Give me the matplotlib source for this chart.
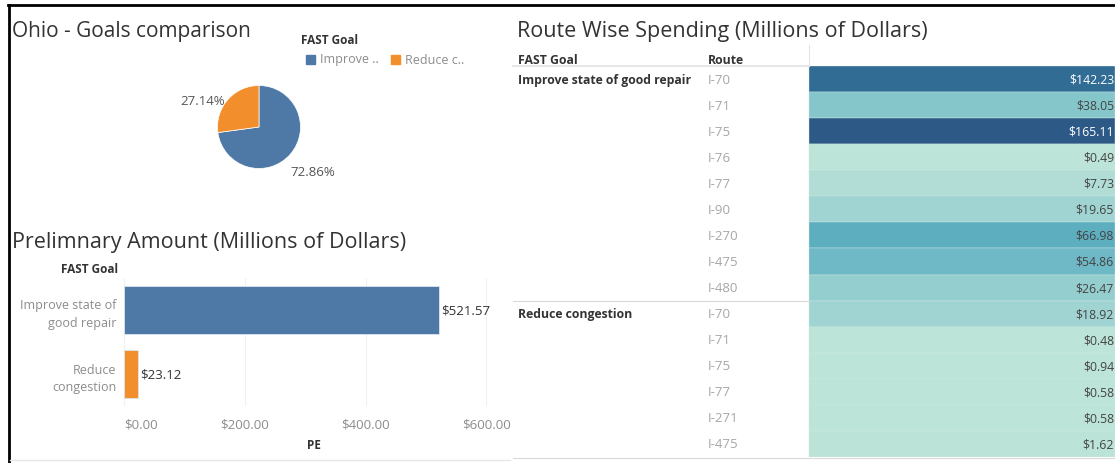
import numpy as np
import matplotlib
matplotlib.use('Agg')
import matplotlib.pyplot as plt
from matplotlib.colors import LinearSegmentedColormap, Normalize

plt.rcParams['font.family'] = ['Open Sans', 'DejaVu Sans']

# data
goals = ['Improve state of good repair', 'Reduce congestion']
goal_short = ['Improve ..', 'Reduce c..']
goal_bar_labels = ['Improve state of\ngood repair', 'Reduce\ncongestion']
goal_share = [72.86, 27.14]
pe_amount = [521.57, 23.12]
pe_ticks = [0, 200, 400, 600]

route_goal = ['Improve state of good repair'] * 9 + ['Reduce congestion'] * 6
routes = ['I-70', 'I-71', 'I-75', 'I-76', 'I-77', 'I-90', 'I-270', 'I-475', 'I-480',
          'I-70', 'I-71', 'I-75', 'I-77', 'I-271', 'I-475']
route_spend = [142.23, 38.05, 165.11, 0.49, 7.73, 19.65, 66.98, 54.86, 26.47,
               18.92, 0.48, 0.94, 0.58, 0.58, 1.62]

BLUE = '#4e79a7'
ORANGE = '#f28e2b'
DARK = '#333333'
GREY = '#8c8c8c'
W, H = 1115, 464

fig = plt.figure(figsize=(W / 100, H / 100), dpi=100)


def box(x0, y0, x1, y1):
    # pixel box -> figure fraction rect
    return [x0 / W, 1 - y1 / H, (x1 - x0) / W, (y1 - y0) / H]


# frame
fig.add_artist(plt.Line2D([8 / W, 1], [1 - 6 / H, 1 - 6 / H], color='black', lw=2))
fig.add_artist(plt.Line2D([9 / W, 9 / W], [0, 1 - 6 / H], color='black', lw=2))
fig.add_artist(plt.Line2D([10 / W, 510 / W], [1 - 461 / H, 1 - 461 / H], color='#e6e6e6', lw=1))

# ---- pie ----
fig.text(12 / W, 1 - 32 / H, 'Ohio - Goals comparison', fontsize=15, color=DARK, va='center')
fig.text(301 / W, 1 - 41 / H, 'FAST Goal', fontsize=8.5, fontweight='bold', color=DARK, va='center')
for i, (lab, c) in enumerate(zip(goal_short, [BLUE, ORANGE])):
    x = 306 + i * 85
    fig.patches.append(plt.Rectangle((x / W, 1 - 65 / H), 9 / W, 9 / H, color=c,
                                     transform=fig.transFigure, figure=fig))
    fig.text((x + 14) / W, 1 - 60 / H, lab, fontsize=9, color=GREY, va='center')

axp = fig.add_axes(box(217.5, 86.5, 300.5, 169.5))
axp.pie(goal_share, colors=[BLUE, ORANGE], startangle=90, counterclock=False,
        wedgeprops=dict(edgecolor='white', linewidth=0.5))
axp.set_position(box(217.5, 86.5, 300.5, 169.5))
axp.set_xlim(-1, 1)
axp.set_ylim(-1, 1)
axp.text(1.30, -1.08, f'{goal_share[0]:.2f}%', fontsize=9.5, color='#555555', ha='center', va='center')
axp.text(-1.35, 0.65, f'{goal_share[1]:.2f}%', fontsize=9.5, color='#555555', ha='center', va='center')

# ---- bar ----
fig.text(12 / W, 1 - 243 / H, 'Prelimnary Amount (Millions of Dollars)', fontsize=15.5, color=DARK, va='center')
fig.text(118 / W, 1 - 270 / H, 'FAST Goal', fontsize=8.5, fontweight='bold', color=DARK, va='center', ha='right')
axb = fig.add_axes(box(123, 279, 505, 407))
ypos = np.arange(len(pe_amount))
axb.barh(ypos, pe_amount, height=0.75, color=[BLUE, ORANGE], edgecolor='#dde6ef', linewidth=0.6, zorder=2)
axb.set_xlim(-2, 631)
axb.set_ylim(1.5, -0.5)
for v, y in zip(pe_amount, ypos):
    axb.text(v + 3, y, f'${v:.2f}', fontsize=9.5, color=DARK, va='center', ha='left')
axb.set_yticks(ypos)
axb.set_yticklabels(goal_bar_labels, fontsize=9, color=GREY, ha='right', linespacing=1.45)
axb.set_xticks(pe_ticks)
axb.set_xticklabels([f'${t:.2f}' for t in pe_ticks], fontsize=9.5, color=GREY)
axb.get_xticklabels()[0].set_ha('left')
axb.tick_params(length=0, pad=8)
axb.tick_params(axis='y', pad=5)
axb.grid(axis='x', color='#f0f0f0', lw=0.8, zorder=0)
for s in axb.spines.values():
    s.set_visible(False)
axb.set_xlabel('PE', fontsize=8.5, fontweight='bold', color=DARK, labelpad=6)

# ---- route table ----
fig.text(517 / W, 1 - 32 / H, 'Route Wise Spending (Millions of Dollars)', fontsize=15.5, color=DARK, va='center')
axt = fig.add_axes(box(513, 67, 1115, 458))
n = len(routes)
axt.set_xlim(513, 1115)
axt.set_ylim(n, 0)
axt.axis('off')
colors = ["#bce4d8", "#aedcd5", "#a1d5d2", "#95cecf", "#89c8cc", "#7ec1ca", "#72bac6", "#66b2c2",
          "#59acbe", "#4ba5ba", "#419eb6", "#3b96b2", "#358ead", "#3586a7", "#347ea1", "#32779b",
          "#316f96", "#2f6790", "#2d608a", "#2c5985"]
cmap = LinearSegmentedColormap.from_list('blueteal', colors)
norm = Normalize(min(route_spend), max(route_spend))
rows = np.arange(n) + 0.5
axt.barh(rows, [1115 - 809] * n, left=809, height=1, color=cmap(norm(route_spend)),
         edgecolor='#cfe8e3', linewidth=0.3)
for y, r, v in zip(rows, routes, route_spend):
    axt.text(708, y, r, fontsize=9.5, color='#a6a6a6', va='center')
    axt.text(1114, y, f'${v:.2f}', fontsize=8.8, va='center', ha='right',
             color='white' if v > 100 else '#444444')
prev = None
for i, g in enumerate(route_goal):
    if g != prev:
        axt.text(518, rows[i], g, fontsize=8.8, fontweight='bold', color=DARK, va='center')
        if prev is not None:
            axt.plot([513, 809], [i, i], color='#d9d9d9', lw=0.8, clip_on=False)
        prev = g
axt.text(518, -0.25, 'FAST Goal', fontsize=8.8, fontweight='bold', color=DARK, va='center')
axt.text(708, -0.25, 'Route', fontsize=8.8, fontweight='bold', color=DARK, va='center')
axt.plot([513, 809], [0, 0], color='#e3e3e3', lw=1.2, clip_on=False)
axt.plot([809, 809], [-0.8, 0], color='#e3e3e3', lw=0.8, clip_on=False)
axt.plot([513, 1115], [n + 0.03, n + 0.03], color='#d9d9d9', lw=0.8, clip_on=False)

fig.savefig('out.png', dpi=100)
